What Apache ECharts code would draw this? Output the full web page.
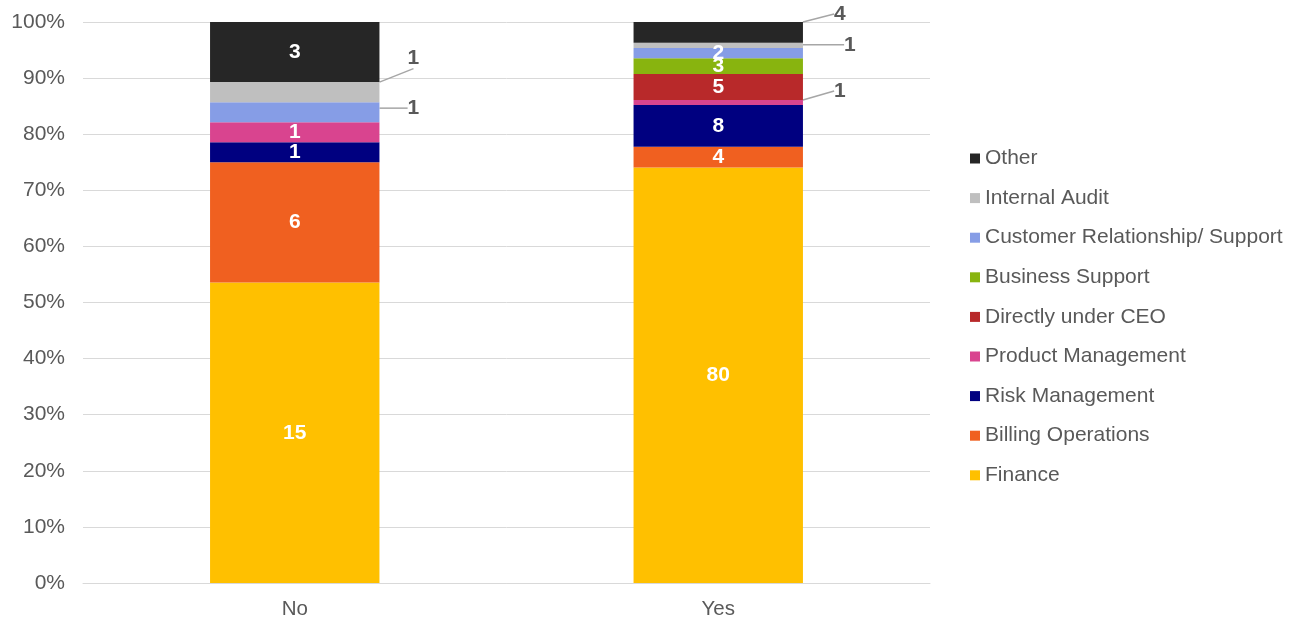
<!DOCTYPE html>
<html>
<head>
<meta charset="utf-8">
<script src="https://cdn.jsdelivr.net/npm/echarts@6/dist/echarts.min.js"></script>
<style>
  html, body { margin: 0; padding: 0; background: #fff; }
  #chart { width: 1293px; height: 622px; }
</style>
</head>
<body>
<div id="chart"></div>
<script>
// Categories on the x axis
const categories = ['No', 'Yes'];

// Headcount per function, one array per stacked series: [No, Yes]
const finance = [15, 80];
const billingOperations = [6, 4];
const riskManagement = [1, 8];
const productManagement = [1, 1];
const directlyUnderCeo = [0, 5];
const businessSupport = [0, 3];
const customerRelationship = [1, 2];
const internalAudit = [1, 1];
const other = [3, 4];

const seriesNames = [
  'Finance', 'Billing Operations', 'Risk Management', 'Product Management',
  'Directly under CEO', 'Business Support', 'Customer Relationship/ Support',
  'Internal Audit', 'Other'
];
const seriesCounts = [
  finance, billingOperations, riskManagement, productManagement,
  directlyUnderCeo, businessSupport, customerRelationship, internalAudit, other
];

const colors = [
  '#FFC000', '#F06020', '#000080', '#D9448F',
  '#B8292A', '#88B40F', '#869DE6', '#BFBFBF', '#262626'
];

// Segments whose value labels sit outside the bar with a leader line
// (offsets are relative to the segment's right edge / top edge)
const callouts = {
  'Internal Audit|No': { dx: 34, dy: -24 },
  'Customer Relationship/ Support|No': { dx: 34, dy: 6 },
  'Product Management|Yes': { dx: 37, dy: -9 },
  'Internal Audit|Yes': { dx: 47, dy: 2 },
  'Other|Yes': { dx: 37, dy: -8 }
};
// Inside labels nudged vertically
const labelNudges = {
  'Customer Relationship/ Support|Yes': [0, -8]
};

const totals = categories.map((c, j) => seriesCounts.reduce((s, arr) => s + arr[j], 0));

const FONT = '"Liberation Sans", Arial, sans-serif';

const series = seriesNames.map((name, i) => ({
  name: name,
  type: 'bar',
  stack: 'total',
  barWidth: '40%',
  itemStyle: { color: colors[i] },
  label: {
    show: true,
    position: 'inside',
    offset: [0, 4],
    color: '#ffffff',
    fontFamily: FONT,
    fontWeight: 'bold',
    fontSize: 21,
    formatter: p => String(p.data.count)
  },
  labelLine: { show: false },
  emphasis: { disabled: true },
  data: categories.map((cat, j) => {
    const n = seriesCounts[i][j];
    const key = name + '|' + cat;
    const item = { value: n / totals[j] * 100, count: n };
    if (n === 0) {
      item.label = { show: false };
    } else if (callouts[key]) {
      item.label = { color: '#595959' };
      item.labelLine = { show: true, lineStyle: { color: '#A6A6A6', width: 1.5 } };
    } else if (labelNudges[key]) {
      item.label = { offset: labelNudges[key] };
    }
    return item;
  }),
  labelLayout: function (params) {
    const key = seriesNames[params.seriesIndex] + '|' + categories[params.dataIndex];
    const c = callouts[key];
    if (!c) return {};
    const r = params.rect;
    return {
      x: r.x + r.width + c.dx,
      y: r.y + c.dy,
      align: 'center',
      verticalAlign: 'middle'
    };
  }
}));

const chart = echarts.init(document.getElementById('chart'));
chart.setOption({
  animation: false,
  backgroundColor: '#ffffff',
  grid: { left: 83, right: 363, top: 22, bottom: 39 },
  legend: {
    orient: 'vertical',
    left: 970,
    top: 148,
    padding: 0,
    icon: 'rect',
    itemWidth: 10,
    itemHeight: 10,
    itemGap: 18.6,
    selectedMode: false,
    data: seriesNames.slice().reverse(),
    textStyle: {
      color: '#595959',
      fontFamily: FONT,
      fontSize: 21,
      lineHeight: 20
    }
  },
  xAxis: {
    type: 'category',
    data: categories,
    axisLine: { show: true, lineStyle: { color: '#D9D9D9', width: 1 } },
    axisTick: { show: false },
    axisLabel: { color: '#595959', fontFamily: FONT, fontSize: 20.5, margin: 16 }
  },
  yAxis: {
    type: 'value',
    min: 0,
    max: 100,
    interval: 10,
    axisLine: { show: false },
    axisTick: { show: false },
    splitLine: { lineStyle: { color: '#D9D9D9', width: 1 } },
    axisLabel: {
      color: '#595959', fontFamily: FONT, fontSize: 21, margin: 18,
      formatter: '{value}%'
    }
  },
  series: series
});
</script>
</body>
</html>
